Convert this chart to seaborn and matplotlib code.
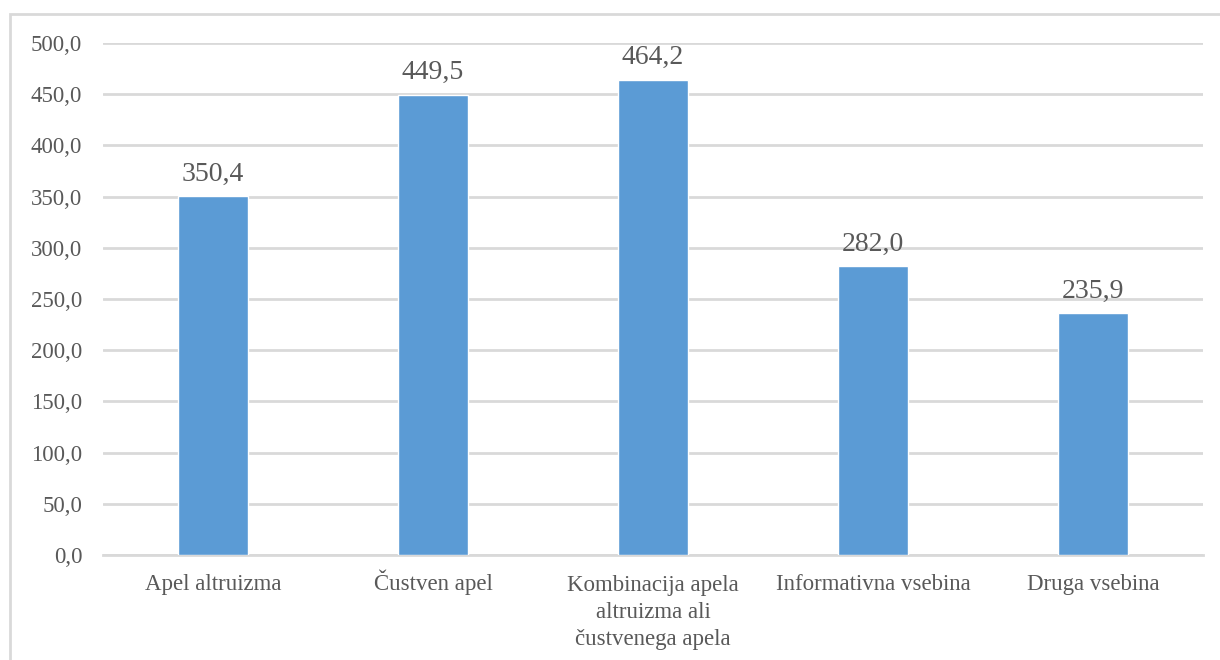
import matplotlib
matplotlib.use("Agg")
import matplotlib.pyplot as plt
from matplotlib.patches import Rectangle
from matplotlib.transforms import ScaledTranslation
import seaborn as sns
import pandas as pd

categories = [
    "Apel altruizma",
    "Čustven apel",
    "Kombinacija apela\naltruizma ali\nčustvenega apela",
    "Informativna vsebina",
    "Druga vsebina",
]
values = [350.4, 449.5, 464.2, 282.0, 235.9]
y_ticks = [0, 50, 100, 150, 200, 250, 300, 350, 400, 450, 500]

df = pd.DataFrame({"kategorija": categories, "vrednost": values})

sns.set_style("white")
plt.rcParams["font.family"] = ["Liberation Serif", "DejaVu Serif"]

text_color = "#595959"
grid_color = "#d9d9d9"
bar_color = "#5b9bd5"

fig = plt.figure(figsize=(12.2, 6.6), dpi=100)
ax = fig.add_axes([103 / 1220, 1 - 555 / 660, 1100 / 1220, 512 / 660])

sns.barplot(data=df, x="kategorija", y="vrednost", color=bar_color,
            width=0.314, saturation=1, ax=ax, zorder=3)

ax.set_ylim(0, 500)
ax.set_xlim(-0.5, len(categories) - 0.5)
ax.set_yticks(y_ticks)
ax.set_yticklabels([f"{v:.1f}".replace(".", ",") for v in y_ticks])
ax.yaxis.grid(True, color=grid_color, linewidth=2, zorder=0)
ax.set_axisbelow(True)
for side in ["top", "right", "left"]:
    ax.spines[side].set_visible(False)
ax.spines["bottom"].set_color(grid_color)
ax.spines["bottom"].set_linewidth(2)
ax.set_xlabel("")
ax.set_ylabel("")
ax.tick_params(axis="y", length=0, pad=15, labelsize=16.5, labelcolor=text_color)
ax.tick_params(axis="x", length=0, pad=25, labelsize=16.5, labelcolor=text_color)

# category labels sit on a common first-line baseline; matplotlib's
# "baseline" uses the last line, so wrapped labels are shifted down
line_step_in = 0.275
for lbl in ax.get_xticklabels():
    lbl.set_linespacing(1.38)
    lbl.set_verticalalignment("baseline")
    extra_lines = lbl.get_text().count("\n")
    if extra_lines:
        lbl.set_transform(lbl.get_transform() + ScaledTranslation(
            0, -extra_lines * line_step_in, fig.dpi_scale_trans))

for container in ax.containers:
    ax.bar_label(container, labels=[f"{v:.1f}".replace(".", ",") for v in values],
                 padding=7, fontsize=20, color=text_color)

# chart frame
fig.patches.append(Rectangle((10 / 1220, -0.1), 1.2, (660 - 14) / 660 + 0.1,
                             transform=fig.transFigure, fill=False,
                             edgecolor=grid_color, linewidth=2))

fig.savefig("out.png", dpi=100, facecolor="white")
